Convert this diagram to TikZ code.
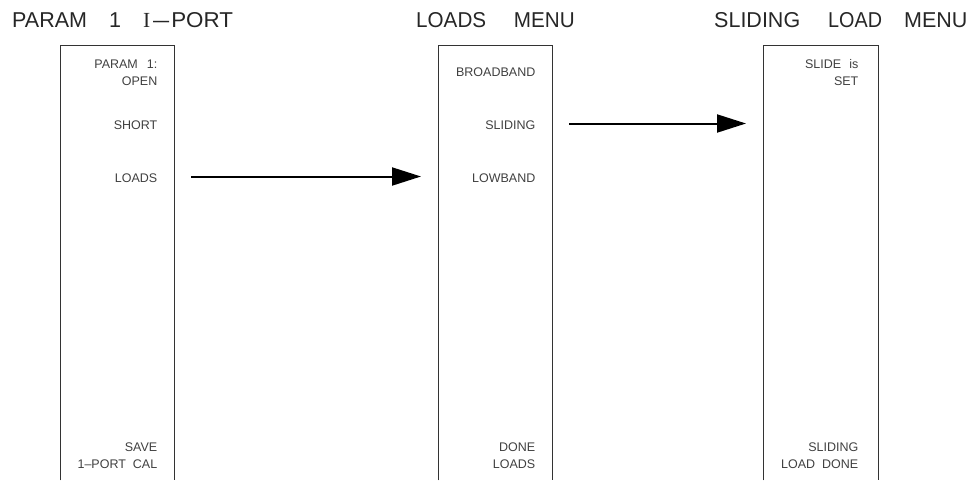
\documentclass[tikz,border=0pt]{standalone}
\usepackage{fontspec}
\setmainfont{Liberation Sans}
\newfontfamily\serifI{Liberation Serif}
\usetikzlibrary{arrows.meta}
\begin{document}
\begin{tikzpicture}[x=1pt,y=-1pt,
  title/.style={anchor=base west,inner sep=0pt,text=black!85,font=\fontsize{21.5}{26}\selectfont},
  item/.style={anchor=base east,inner sep=0pt,text=black!75,font=\fontsize{12.5}{17}\selectfont},
  item2/.style={anchor=north east,inner sep=0pt,align=right,text=black!75,font=\fontsize{12.5}{17}\selectfont},
  menubox/.style={rectangle,inner sep=0pt,anchor=north west},
  boxline/.style={draw=black!80,line width=0.9pt},
  flow/.style={line width=2pt,-{Triangle[length=29pt,width=18pt]}}]
\useasboundingbox (0,0) rectangle (971,480);
% titles
\node[title] (t1) at (12,27) {PARAM\hspace*{22pt}1\hspace*{22pt}{\serifI I}\hspace*{3pt}\scalebox{1.35}[1]{–}\hspace*{2pt}\scalebox{1.04}[1]{PORT}};
\node[title] (t2) at (416,27) {\scalebox{0.96}[1]{LOADS\hspace*{29pt}MENU}};
\node[title] (t3) at (714,27) {SLIDING\hspace*{28pt}\scalebox{0.92}[1]{LOAD}\hspace*{22pt}MENU};
% boxes
\node[menubox,minimum width=114pt,minimum height=435pt] (b1) at (60,45) {};
\node[menubox,minimum width=114pt,minimum height=435pt] (b2) at (438,45) {};
\node[menubox,minimum width=115pt,minimum height=435pt] (b3) at (763,45) {};
\foreach \b in {b1,b2,b3}
  \draw[boxline] (\b.south west) -- (\b.north west) -- (\b.north east) -- (\b.south east);
% box 1 items
\node[item2] (p1) at (157.5,59.5) {PARAM\hspace*{9pt}1:\\OPEN};
\node[item] (s1) at (157.5,129) {SHORT};
\node[item] (l1) at (157.5,182) {LOADS};
\node[item2] (sv) at (157.5,443) {SAVE\\1–PORT\hspace*{7pt}CAL};
% box 2 items
\node[item] (bb) at (535.5,76) {BROADBAND};
\node[item] (sl) at (535.5,129) {SLIDING};
\node[item] (lb) at (535.5,182) {LOWBAND};
\node[item2] (dl) at (535.5,443) {DONE\\LOADS};
% box 3 items
\node[item2] (si) at (858.5,59.5) {SLIDE\hspace*{8pt}is\\SET};
\node[item2] (sd) at (858.5,443) {SLIDING\\LOAD\hspace*{7pt}DONE};
% arrows
\coordinate (a1s) at (191,176.5);
\coordinate (a1e) at (421,176.5);
\coordinate (a2s) at (569,123.5);
\coordinate (a2e) at (746,123.5);
\draw[flow] (a1s) -- (a1e);
\draw[flow] (a2s) -- (a2e);
\end{tikzpicture}
\end{document}
